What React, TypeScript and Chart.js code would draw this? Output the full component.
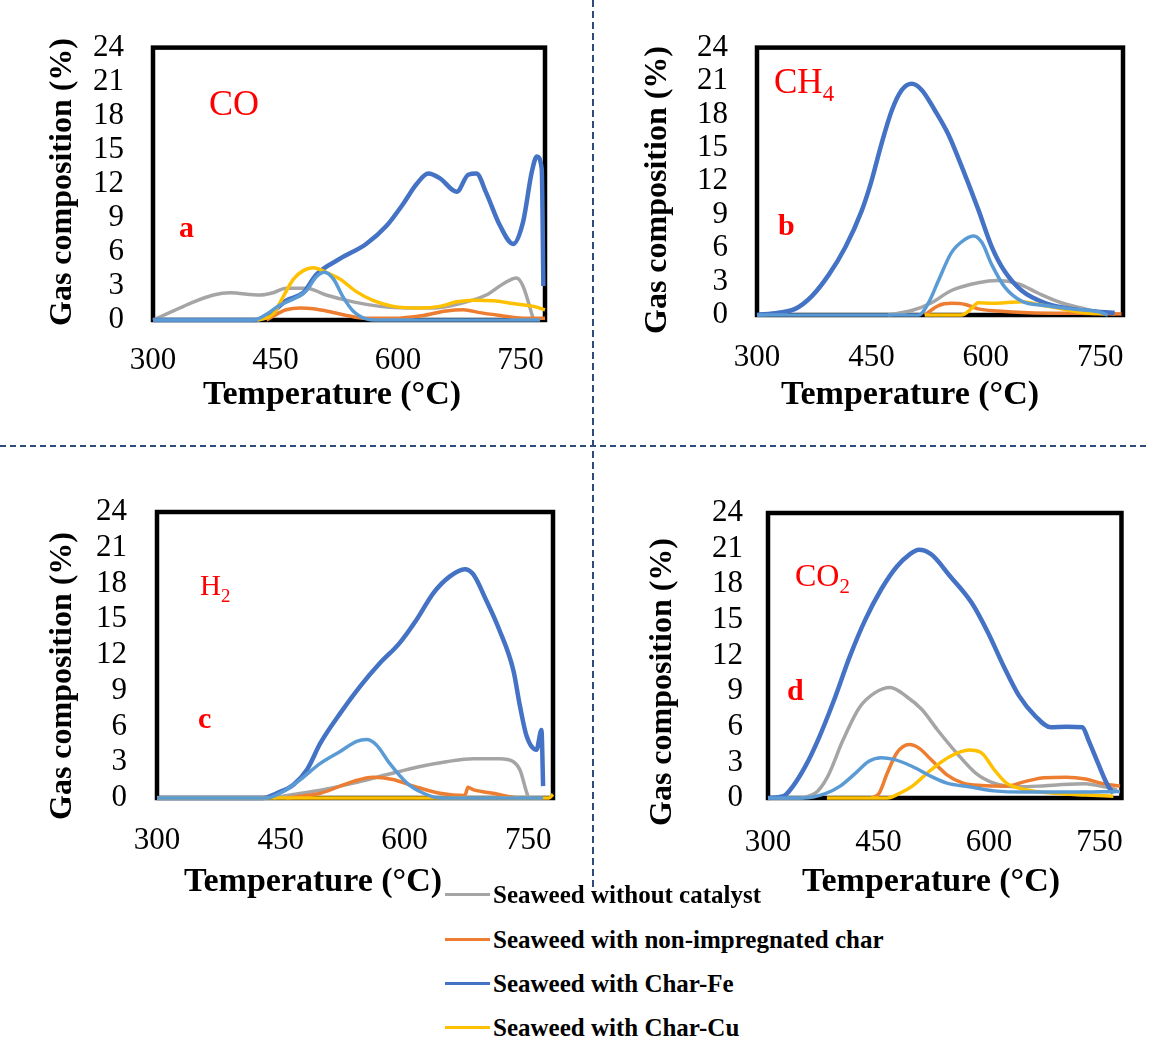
import React, { useEffect, useRef } from "react";
import { Chart, registerables } from "chart.js";

Chart.register(...registerables);

// ---------- colours ----------
const GRAY = "#A5A5A5";
const ORANGE = "#ED7D31";
const BLUE = "#4472C4";
const YELLOW = "#FFC000";
const LBLUE = "#5B9BD5";

// ---------- axes ----------
const X_MIN = 300;
const X_MAX = 780;
const X_TICKS = [300, 450, 600, 750];
const Y_TICKS = [0, 3, 6, 9, 12, 15, 18, 21, 24];
const X_TITLE = "Temperature (°C)";
const Y_TITLE = "Gas composition (%)";

// ---------- legend ----------
const SERIES_NAMES = [
  "Seaweed without catalyst",
  "Seaweed with non-impregnated char",
  "Seaweed with Char-Fe",
  "Seaweed with Char-Cu",
];
const SERIES_COLORS = [GRAY, ORANGE, BLUE, YELLOW];

// ---------- data: [temperature °C, gas composition %] ----------
// (a) CO
const CO_NONE = [[300, 0], [325, 0.8], [345, 1.45], [374, 2.2], [394, 2.4], [431, 2.2], [447, 2.4], [463, 2.8], [488, 2.8], [512, 2.2], [545, 1.6], [578, 1.2], [610, 1.05], [643, 1.05], [676, 1.45], [708, 2.2], [729, 3.2], [745, 3.7], [753, 3.0], [766, 0]];
const CO_CHAR = [[439, 0], [455, 0.65], [463, 0.9], [480, 1.05], [496, 1.0], [512, 0.8], [537, 0.4], [561, 0.15], [594, 0.15], [631, 0.4], [659, 0.8], [680, 0.9], [700, 0.65], [725, 0.4], [753, 0.15], [780, 0.15]];
const CO_FE = [[300, 0], [427, 0], [445, 0.6], [463, 1.7], [484, 2.4], [500, 4.0], [529, 5.4], [561, 6.7], [586, 8.3], [606, 10.2], [623, 12.0], [637, 12.9], [651, 12.5], [672, 11.3], [686, 12.8], [696, 12.9], [708, 11.2], [725, 8.3], [741, 6.7], [753, 8.6], [764, 13.1], [770, 14.4], [776, 13.3], [778, 3.0]];
const CO_CU = [[427, 0], [447, 0.5], [459, 2.0], [472, 3.6], [484, 4.35], [496, 4.6], [512, 4.2], [529, 3.6], [549, 2.5], [570, 1.7], [594, 1.2], [627, 1.05], [651, 1.2], [672, 1.6], [692, 1.75], [717, 1.7], [741, 1.45], [766, 1.2], [780, 0.9]];
const CO_EXTRA = [[300, 0], [423, 0], [439, 0.5], [455, 1.3], [476, 2.0], [488, 2.6], [500, 3.8], [510, 4.2], [521, 3.6], [533, 2.0], [545, 0.8], [561, 0.1], [575, 0], [774, 0]];

// (b) CH4
const CH4_NONE = [[472, 0], [503, 0.4], [529, 1.1], [555, 2.2], [590, 2.9], [616, 3.1], [643, 2.8], [669, 1.95], [699, 1.1], [730, 0.55], [756, 0.2], [770, 0.1]];
const CH4_CHAR = [[520, 0], [538, 0.85], [555, 1.05], [573, 0.95], [590, 0.55], [616, 0.35], [656, 0.2], [721, 0.15], [778, 0.1]];
const CH4_FE = [[300, 0], [328, 0.2], [350, 0.55], [372, 1.7], [394, 3.6], [416, 6.1], [437, 9.3], [450, 12.0], [463, 15.3], [477, 18.4], [490, 20.2], [503, 20.75], [516, 20.2], [533, 18.4], [551, 16.2], [568, 13.4], [590, 9.5], [608, 6.1], [625, 3.9], [647, 2.2], [677, 1.1], [712, 0.55], [747, 0.3], [769, 0.2]];
const CH4_CU = [[520, 0], [568, 0], [581, 0.55], [590, 1.1], [608, 1.05], [625, 1.1], [647, 1.2], [669, 0.95], [699, 0.55], [730, 0.2], [756, 0.1]];
const CH4_EXTRA = [[300, 0], [512, 0], [525, 1.1], [538, 3.1], [555, 5.6], [573, 6.8], [584, 7.1], [595, 6.5], [608, 4.5], [625, 2.5], [647, 1.25], [677, 0.85], [712, 0.55], [747, 0.3], [760, 0]];

// (c) H2
const H2_NONE = [[441, 0], [465, 0.3], [498, 0.65], [538, 1.25], [578, 1.95], [619, 2.65], [651, 3.05], [683, 3.3], [715, 3.3], [732, 3.05], [740, 2.35], [750, 0.1], [752, 0]];
const H2_CHAR = [[457, 0], [498, 0.4], [538, 1.4], [562, 1.75], [586, 1.55], [611, 1.0], [643, 0.4], [673, 0.2], [677, 0.9], [683, 0.7], [707, 0.4], [728, 0.1], [740, 0]];
const H2_FE = [[300, 0], [429, 0], [445, 0.4], [465, 1.1], [482, 2.4], [498, 4.6], [522, 7.1], [546, 9.35], [570, 11.3], [594, 13.0], [615, 15.0], [635, 17.2], [655, 18.6], [673, 19.2], [683, 18.8], [699, 16.6], [715, 14.1], [732, 10.7], [740, 7.7], [748, 5.2], [760, 4.05], [766, 5.7], [768, 1.0]];
const H2_CU = [[300, 0], [775, 0], [780, 0.3]];
const H2_EXTRA = [[300, 0], [433, 0], [453, 0.55], [473, 1.5], [498, 2.9], [522, 3.9], [542, 4.75], [554, 4.9], [566, 4.45], [582, 2.9], [603, 1.25], [623, 0.4], [643, 0], [768, 0]];

// (d) CO2
const CO2_NONE = [[300, 0], [334, 0], [364, 0.4], [381, 1.8], [402, 4.9], [424, 7.6], [445, 8.85], [466, 9.3], [488, 8.55], [509, 7.45], [530, 5.75], [556, 3.8], [582, 2.1], [607, 1.25], [637, 0.95], [667, 1.0], [692, 1.1], [731, 1.2], [752, 1.0], [774, 0.7]];
const CO2_CHAR = [[441, 0], [451, 0.4], [462, 2.1], [475, 3.8], [492, 4.5], [505, 4.2], [522, 3.2], [543, 1.95], [565, 1.25], [590, 1.05], [624, 1.0], [650, 1.4], [675, 1.7], [705, 1.75], [731, 1.6], [752, 1.25], [778, 1.0]];
const CO2_FE = [[300, 0], [321, 0.15], [334, 1.0], [351, 2.7], [368, 4.9], [390, 8.3], [411, 11.9], [432, 15.0], [454, 17.6], [475, 19.5], [492, 20.5], [505, 20.9], [522, 20.5], [547, 18.7], [577, 16.4], [599, 13.9], [620, 11.1], [641, 8.6], [663, 6.9], [684, 5.95], [705, 6.0], [727, 5.95], [735, 4.9], [748, 2.95], [761, 1.1], [769, 0.4]];
const CO2_CU = [[380, 0], [462, 0], [479, 0.4], [496, 1.0], [522, 2.4], [547, 3.5], [573, 4.05], [590, 3.8], [607, 2.4], [624, 1.25], [650, 0.7], [688, 0.4], [731, 0.25], [769, 0.15]];
const CO2_EXTRA = [[300, 0], [347, 0], [377, 0.35], [398, 1.0], [419, 2.1], [437, 3.1], [454, 3.4], [471, 3.25], [496, 2.65], [522, 1.8], [543, 1.25], [573, 0.95], [607, 0.6], [650, 0.5], [710, 0.5], [778, 0.55]];

const SERIF = "'Liberation Serif', 'Times New Roman', serif";

type Pt = number[];
interface PanelCfg {
  left: number; top: number; w: number; h: number;
  area: { l: number; t: number; r: number; b: number };
  yPad: number; xPad: number;
  series: Pt[][]; // none, char, fe, cu, extra
}

const PANELS: PanelCfg[] = [
  { left: 0, top: 0, w: 580, h: 420, area: { l: 153, t: 17, r: 545, b: 320 }, yPad: 29, xPad: 22, series: [CO_NONE, CO_CHAR, CO_FE, CO_CU, CO_EXTRA] },
  { left: 590, top: 0, w: 559, h: 420, area: { l: 167, t: 28, r: 533, b: 315 }, yPad: 29, xPad: 24, series: [CH4_NONE, CH4_CHAR, CH4_FE, CH4_CU, CH4_EXTRA] },
  { left: 0, top: 450, w: 580, h: 440, area: { l: 157, t: 62, r: 553, b: 348 }, yPad: 30, xPad: 24, series: [H2_NONE, H2_CHAR, H2_FE, H2_CU, H2_EXTRA] },
  { left: 590, top: 450, w: 559, h: 440, area: { l: 178, t: 63, r: 553, b: 348 }, yPad: 25, xPad: 26, series: [CO2_NONE, CO2_CHAR, CO2_FE, CO2_CU, CO2_EXTRA] },
];

const LINE_COLORS = [GRAY, ORANGE, BLUE, YELLOW, LBLUE];
const LINE_LABELS = [...SERIES_NAMES, "Unlabelled series"];
const LINE_ORDER = [5, 4, 3, 2, 1];
const LINE_WIDTH = [3.5, 3.5, 4.5, 3.5, 3.5];

const boxPlugin = {
  id: "plotBox",
  beforeDatasetsDraw(chart: any) {
    const { ctx, chartArea } = chart;
    const { left, top, right, bottom } = chartArea;
    ctx.save();
    ctx.lineWidth = 4.5;
    ctx.strokeStyle = "#000";
    ctx.strokeRect(left, top, right - left, bottom - top);
    ctx.restore();
  },
};

function Panel({ cfg }: { cfg: PanelCfg }) {
  const ref = useRef<HTMLCanvasElement>(null);
  useEffect(() => {
    const canvas = ref.current;
    if (!canvas) return;
    const tickFont = { family: SERIF, size: 31 };
    const chart = new Chart(canvas, {
      type: "line",
      data: {
        datasets: cfg.series.map((s, i) => ({
          label: LINE_LABELS[i],
          data: s.map((p) => ({ x: p[0], y: p[1] })),
          borderColor: LINE_COLORS[i],
          backgroundColor: LINE_COLORS[i],
          borderWidth: LINE_WIDTH[i],
          pointRadius: 0,
          fill: false,
          cubicInterpolationMode: "monotone",
          clip: false,
          order: LINE_ORDER[i],
        })),
      },
      options: {
        animation: false,
        responsive: false,
        maintainAspectRatio: false,
        layout: { padding: { top: cfg.area.t, right: cfg.w - cfg.area.r, left: 0, bottom: 0 } },
        plugins: { legend: { display: false }, tooltip: { enabled: false } },
        scales: {
          x: {
            type: "linear",
            min: X_MIN,
            max: X_MAX,
            afterFit: (s: any) => { s.height = cfg.h - cfg.area.b; },
            afterBuildTicks: (s: any) => { s.ticks = X_TICKS.map((v) => ({ value: v })); },
            grid: { display: false, drawTicks: false },
            border: { display: false },
            ticks: { font: tickFont, color: "#000", padding: cfg.xPad, maxRotation: 0, autoSkip: false },
          },
          y: {
            type: "linear",
            min: 0,
            max: 24,
            afterFit: (s: any) => { s.width = cfg.area.l; },
            afterBuildTicks: (s: any) => { s.ticks = Y_TICKS.map((v) => ({ value: v })); },
            grid: { display: false, drawTicks: false },
            border: { display: false },
            ticks: { font: tickFont, color: "#000", padding: cfg.yPad, autoSkip: false },
          },
        },
      } as any,
      plugins: [boxPlugin],
    });
    return () => chart.destroy();
  }, [cfg]);
  return (
    <canvas
      ref={ref}
      width={cfg.w}
      height={cfg.h}
      style={{ position: "absolute", left: cfg.left, top: cfg.top, width: cfg.w, height: cfg.h }}
    />
  );
}

const txt = (extra: React.CSSProperties): React.CSSProperties => ({
  position: "absolute",
  fontFamily: SERIF,
  lineHeight: 1,
  whiteSpace: "nowrap",
  color: "#000",
  ...extra,
});

const YTITLE_POS = [[60, 182], [655, 190], [60, 676], [660, 682]];
const XTITLE_POS = [[332, 393], [910, 393], [313, 880], [931, 880]];

export default function App() {
  return (
    <div style={{ position: "absolute", left: 0, top: 0, width: 1149, height: 1038, background: "#fff", overflow: "hidden" }}>
      {/* dashed dividers */}
      <div style={{ position: "absolute", left: 592, top: 0, width: 2, height: 888, background: "repeating-linear-gradient(to bottom, #2F4B7C 0px, #2F4B7C 7px, transparent 7px, transparent 11px)" }} />
      <div style={{ position: "absolute", left: 0, top: 445, width: 1149, height: 2, background: "repeating-linear-gradient(to right, #2F4B7C 0px, #2F4B7C 6px, transparent 6px, transparent 10px)" }} />

      {PANELS.map((p, i) => <Panel key={i} cfg={p} />)}

      {/* axis titles */}
      {YTITLE_POS.map(([x, y], i) => (
        <div key={"yt" + i} style={txt({ left: x, top: y, fontSize: 32, fontWeight: "bold", transform: "translate(-50%,-50%) rotate(-90deg)" })}>{Y_TITLE}</div>
      ))}
      {XTITLE_POS.map(([x, y], i) => (
        <div key={"xt" + i} style={txt({ left: x, top: y, fontSize: 34, fontWeight: "bold", transform: "translate(-50%,-50%)" })}>{X_TITLE}</div>
      ))}

      {/* panel labels */}
      <div style={txt({ left: 209, top: 85, fontSize: 36, color: "#FF0000" })}>CO</div>
      <div style={txt({ left: 179, top: 212, fontSize: 30, fontWeight: "bold", color: "#FF0000" })}>a</div>
      <div style={txt({ left: 774, top: 64, fontSize: 35, color: "#FF0000" })}>CH<sub style={{ fontSize: "0.65em" }}>4</sub></div>
      <div style={txt({ left: 778, top: 210, fontSize: 30, fontWeight: "bold", color: "#FF0000" })}>b</div>
      <div style={txt({ left: 200, top: 571, fontSize: 29, color: "#FF0000" })}>H<sub style={{ fontSize: "0.65em" }}>2</sub></div>
      <div style={txt({ left: 198, top: 703, fontSize: 30, fontWeight: "bold", color: "#FF0000" })}>c</div>
      <div style={txt({ left: 795, top: 559, fontSize: 32, color: "#FF0000" })}>CO<sub style={{ fontSize: "0.65em" }}>2</sub></div>
      <div style={txt({ left: 787, top: 675, fontSize: 30, fontWeight: "bold", color: "#FF0000" })}>d</div>

      {/* legend */}
      {SERIES_NAMES.map((name, i) => {
        const cy = [894, 939, 983, 1027][i];
        return (
          <React.Fragment key={"lg" + i}>
            <div style={{ position: "absolute", left: 445, top: cy - 1.5, width: 45, height: 3, background: SERIES_COLORS[i] }} />
            <div style={txt({ left: 493, top: cy, fontSize: 25, fontWeight: "bold", transform: "translateY(-50%)" })}>{name}</div>
          </React.Fragment>
        );
      })}
    </div>
  );
}
